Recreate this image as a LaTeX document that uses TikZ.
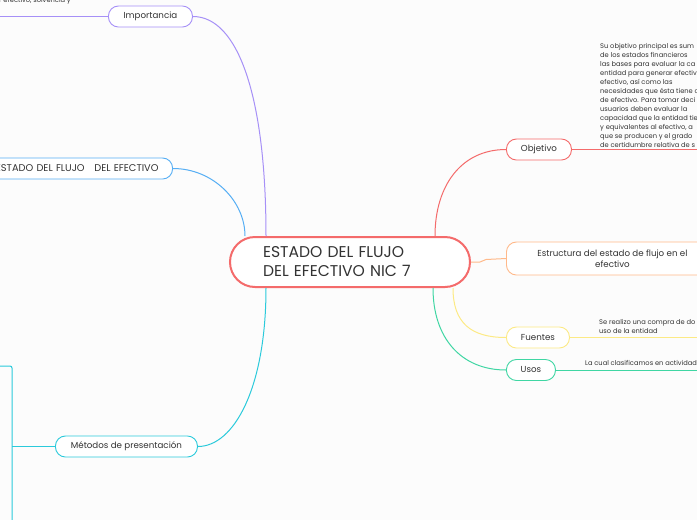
\documentclass[tikz,border=0pt]{standalone}
\usepackage{fontspec}
\setmainfont{Poppins}
\usetikzlibrary{positioning}

\definecolor{bgcol}{HTML}{FCFCFC}
\definecolor{inkcol}{HTML}{333333}
\definecolor{redcol}{HTML}{F46B6B}
\definecolor{purplecol}{HTML}{A690F7}
\definecolor{bluecol}{HTML}{56AEF4}
\definecolor{cyancol}{HTML}{2BCADB}
\definecolor{orangecol}{HTML}{FFB98A}
\definecolor{yellowcol}{HTML}{FCEA85}
\definecolor{greencol}{HTML}{3FD6A3}

\begin{document}
\begin{tikzpicture}[x=1pt,y=-1pt,
    centre/.style={draw=redcol, line width=2pt, fill=white, rounded corners=25pt,
        minimum width=240pt, minimum height=50pt, text width=174pt, inner xsep=33pt,
        align=left, text=inkcol, font=\fontsize{15.6}{19}\selectfont},
    topic/.style={draw=#1, line width=0.9pt, fill=white, rounded corners=10pt,
        minimum height=21pt, inner sep=0pt, text=inkcol, font=\fontsize{8.7}{10.5}\selectfont},
    link/.style={draw=#1, line width=1pt},
    note/.style={text=inkcol, align=left, inner sep=0pt, anchor=north west,
        font=\fontsize{6.7}{9}\selectfont}]
    % background and frame
    \fill[bgcol] (0,0) rectangle (697,520);
    \useasboundingbox (0,0) rectangle (697,520);

    % main topic
    \node[centre, anchor=north west] (centre) at (229,236) {ESTADO DEL FLUJO\\DEL EFECTIVO NIC 7};

    % left side
    \node[topic=purplecol, anchor=west, minimum width=84pt] (imp) at (108,16.5) {Importancia};
    \node[topic=bluecol, anchor=east, minimum width=200pt, align=right, text width=172pt, inner xsep=0pt,
        font=\fontsize{9.8}{11}\selectfont] (flujo) at (173,168.5)
        {ESTADO DEL FLUJO\ \ \ DEL EFECTIVO};
    \node[topic=cyancol, anchor=west, minimum width=142pt] (metodos) at (55,446.5) {Métodos de presentación};

    % right side
    \node[topic=redcol, anchor=west, minimum width=65pt] (obj) at (506,149.5) {Objetivo};
    \node[topic=orangecol, anchor=west, minimum width=212pt, minimum height=33pt, align=center] (estr) at (506,258.5)
        {Estructura del estado de flujo en el\\efectivo};
    \node[topic=yellowcol, anchor=west, minimum width=63pt] (fuentes) at (506,337.5) {Fuentes};
    \node[topic=greencol, anchor=west, minimum width=49pt] (usos) at (506,370) {Usos};

    % free ends
    \coordinate (impend) at (0,16.5);
    \coordinate (objend) at (697,149.5);
    \coordinate (fuend) at (697,337.5);
    \coordinate (usend) at (697,370);
    \coordinate (brtop) at (0,366);
    \coordinate (brmid) at (12,446.5);

    % notes
    \node[note, anchor=south west] (impnote) at (-1,4.5) {r efectivo, solvencia y};
    \node[note] (objnote) at (600,43) {Su objetivo principal es sum\\de los estados financieros\\las bases para evaluar la ca\\entidad para generar efectiv\\efectivo, así como las\\necesidades que ésta tiene c\\de efectivo. Para tomar deci\\usuarios deben evaluar la\\capacidad que la entidad tie\\y equivalentes al efectivo, a\\que se producen y el grado\\de certidumbre relativa de s};
    \node[note] (funote) at (599,319) {Se realizo una compra de do\\uso de la entidad};
    \node[note] (usnote) at (585,360) {La cual clasificamos en actividad};

    % connectors
    \draw[link=purplecol] (imp.east) .. controls +(45,0) and +(0,-140) .. ([xshift=37pt]centre.north west);
    \draw[link=bluecol] (flujo.east) .. controls +(40,0) and +(0,-35) .. ([xshift=16pt]centre.north west);
    \draw[link=cyancol] ([xshift=37pt]centre.south west) .. controls +(0,100) and +(36,0) .. (metodos.east);
    \draw[link=redcol] ([xshift=206pt]centre.north west) .. controls +(0,-50) and +(-45,0) .. (obj.west);
    \draw[link=orangecol] (centre.east) -- ++(9,0) to[out=0,in=180] ++(6,-2.5) -- (estr.west);
    \draw[link=yellowcol] ([xshift=224pt]centre.south west) .. controls +(0,35) and +(-35,0) .. (fuentes.west);
    \draw[link=greencol] ([xshift=204pt]centre.south west) .. controls +(0,50) and +(-45,0) .. (usos.west);

    \draw[link=purplecol] (imp.west) -- (impend);
    \draw[link=redcol] (obj.east) -- (objend);
    \draw[link=yellowcol] (fuentes.east) -- (fuend);
    \draw[link=greencol] (usos.east) -- (usend);
    \draw[link=cyancol] (metodos.west) -- (brmid);
    \draw[link=cyancol, rounded corners=2pt] (brtop) -- (12,366) -- (12,525);
\end{tikzpicture}
\end{document}
